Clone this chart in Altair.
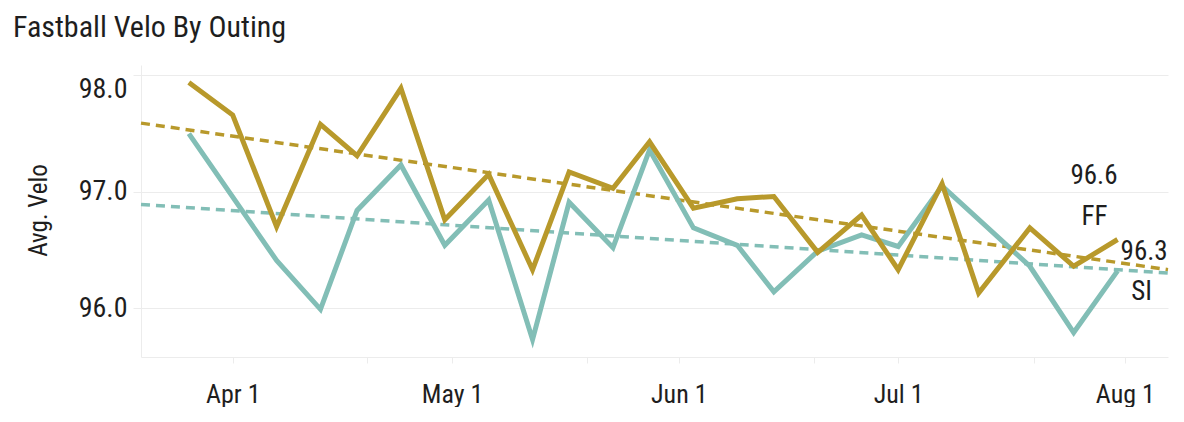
import altair as alt
import pandas as pd

# ---- data ----
dates = ["2024-03-26", "2024-04-01", "2024-04-07", "2024-04-13", "2024-04-18",
         "2024-04-24", "2024-04-30", "2024-05-06", "2024-05-12", "2024-05-17",
         "2024-05-23", "2024-05-28", "2024-06-03", "2024-06-09", "2024-06-14",
         "2024-06-20", "2024-06-26", "2024-07-01", "2024-07-07", "2024-07-12",
         "2024-07-19", "2024-07-25", "2024-07-31"]
ff_velo = [97.94, 97.66, 96.70, 97.58, 97.31, 97.89, 96.76, 97.15, 96.33, 97.17,
           97.03, 97.43, 96.86, 96.94, 96.96, 96.48, 96.80, 96.33, 97.07, 96.13,
           96.69, 96.36, 96.59]
si_dates = ["2024-03-26", "2024-04-07", "2024-04-13", "2024-04-18",
            "2024-04-24", "2024-04-30", "2024-05-06", "2024-05-12", "2024-05-17",
            "2024-05-23", "2024-05-28", "2024-06-03", "2024-06-09", "2024-06-14",
            "2024-06-20", "2024-06-26", "2024-07-01", "2024-07-07",
            "2024-07-19", "2024-07-25", "2024-07-31"]
si_velo = [97.50, 96.41, 95.99, 96.84, 97.23, 96.54, 96.93, 95.73, 96.91,
           96.52, 97.36, 96.69, 96.54, 96.14, 96.49, 96.63, 96.53, 97.05,
           96.36, 95.79, 96.32]
pitch_names = ["FF", "SI"]
pitch_colors = ["#B8992B", "#82BEB6"]
y_ticks = [96.0, 97.0, 98.0]
x_tick_dates = ["2024-04-01T00:00Z", "2024-04-19T08:00Z", "2024-05-01T00:00Z",
                "2024-05-19T12:00Z", "2024-06-01T00:00Z", "2024-06-19T12:00Z",
                "2024-07-01T00:00Z", "2024-07-19T14:00Z", "2024-08-01T00:00Z"]
x_domain_dates = ["2024-03-19T11:00Z", "2024-08-06T21:30Z"]
y_domain = [95.58, 98.09]


def ms(s):
    return int(pd.Timestamp(s).value // 10**6)


x_ticks = [ms(s) for s in x_tick_dates]
x_domain = [ms(s) for s in x_domain_dates]

df = pd.DataFrame({
    "date": dates + si_dates,
    "velo": ff_velo + si_velo,
    "pitch": [pitch_names[0]] * len(dates) + [pitch_names[1]] * len(si_dates),
})

FONT = "Roboto Condensed, Noto Sans Condensed, Liberation Sans Narrow, DejaVu Sans Condensed, sans-serif"
TEXT = "#1e1e1e"
GRID = "#ececec"

color = alt.Color("pitch:N", scale=alt.Scale(domain=pitch_names, range=pitch_colors), legend=None)

x_enc = alt.X(
    "date:T",
    scale=alt.Scale(type="utc", domain=x_domain, nice=False),
    axis=alt.Axis(
        values=x_ticks,
        labelExpr="utcdate(datum.value) == 1 ? utcFormat(datum.value, '%b %-d') : ''",
        title=None, grid=False, domainColor=GRID, tickColor=GRID, tickSize=6,
        labelPadding=18, labelFont=FONT, labelFontSize=26,
        labelColor=TEXT, labelFlush=False, labelOverlap=False,
    ),
)
y_enc = alt.Y(
    "velo:Q",
    scale=alt.Scale(domain=y_domain, nice=False, zero=False),
    axis=alt.Axis(
        values=y_ticks, format=".1f", title="Avg. Velo",
        grid=True, gridColor=GRID, domainColor=GRID, tickColor=GRID, tickSize=8,
        labelPadding=6, labelFont=FONT, labelFontSize=28,
        labelColor=TEXT, labelFlush=15,
        titleFont=FONT, titleFontSize=25, titleFontWeight="normal", titleColor=TEXT,
        titleX=-90, titleY=145, titleBaseline="bottom", titleAngle=270,
    ),
)

base = alt.Chart(df)

trend = base.transform_regression(
    "date", "velo", groupby=["pitch"], extent=x_domain
).mark_line(strokeDash=[9, 6], strokeWidth=3.5).encode(x=x_enc, y=y_enc, color=color)

si_line = base.transform_filter(alt.datum.pitch == "SI").mark_line(
    strokeWidth=5, strokeJoin="miter", strokeCap="butt"
).encode(x=x_enc, y=y_enc, color=color)

ff_line = base.transform_filter(alt.datum.pitch == "FF").mark_line(
    strokeWidth=5, strokeJoin="miter", strokeCap="butt"
).encode(x=x_enc, y=y_enc, color=color)


def last_point(p):
    return base.transform_filter(alt.datum.pitch == p).transform_joinaggregate(
        last_date="max(date)"
    ).transform_filter("time(datum.date) === time(datum.last_date)")


label_style = dict(font=FONT, fontSize=27, color=TEXT, baseline="alphabetic")

ff_val = last_point("FF").mark_text(align="right", dx=0, dy=-56, **label_style).encode(
    x="date:T", y="velo:Q", text=alt.Text("velo:Q", format=".1f"))
ff_name = last_point("FF").mark_text(align="center", dx=-23, dy=-15, **label_style).encode(
    x="date:T", y="velo:Q", text="pitch:N")
si_val = last_point("SI").mark_text(align="left", dx=3, dy=-11, **label_style).encode(
    x="date:T", y="velo:Q", text=alt.Text("velo:Q", format=".1f"))
si_name = last_point("SI").mark_text(align="center", dx=24, dy=29, **label_style).encode(
    x="date:T", y="velo:Q", text="pitch:N")

chart = alt.layer(trend, si_line, ff_line, ff_val, ff_name, si_val, si_name).properties(
    width=1027,
    height=292,
    autosize=alt.AutoSizeParams(type="none"),
    padding={"left": 133, "top": 57, "right": 8, "bottom": 50},
    title=alt.TitleParams(
        "Fastball Velo By Outing", anchor="start", frame="group", dx=-128, offset=0, dy=2,
        baseline="alphabetic", font=FONT, fontSize=30, fontWeight="normal", color=TEXT,
    ),
).configure_view(stroke=None)

chart.save("out.html", embed_options={"renderer": "svg", "actions": False})
